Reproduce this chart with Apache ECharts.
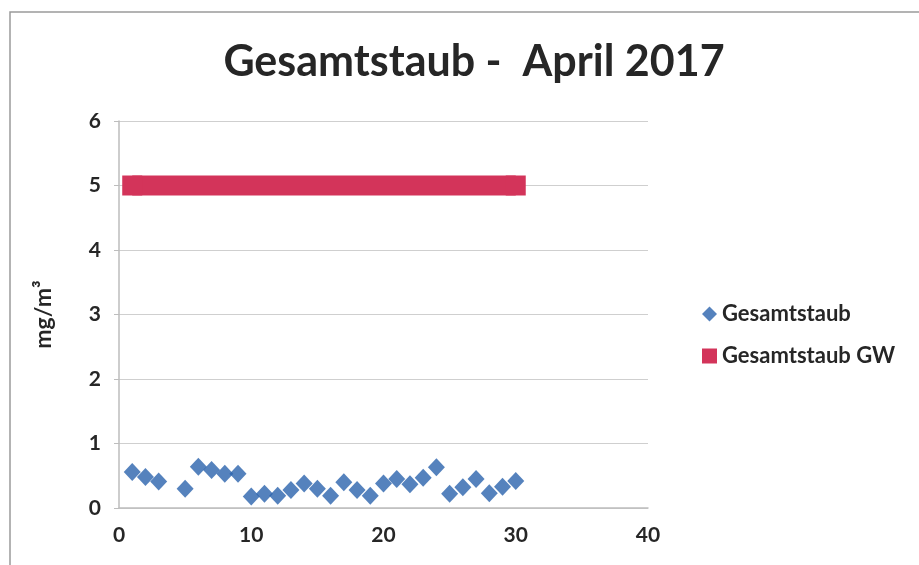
<!DOCTYPE html>
<html>
<head>
<meta charset="utf-8">
<style>
  html, body { margin: 0; padding: 0; background: #fff; }
  #chart { width: 919px; height: 565px; }
</style>
<script src="https://cdn.jsdelivr.net/npm/echarts@6/dist/echarts.min.js"></script>
</head>
<body>
<div id="chart"></div>
<script>
// Tagesmittel Gesamtstaub, April 2017 (Tag 4 fehlt)
const days = [1, 2, 3, 5, 6, 7, 8, 9, 10, 11, 12, 13, 14, 15, 16, 17, 18, 19, 20, 21, 22, 23, 24, 25, 26, 27, 28, 29, 30]
const dust = [0.56, 0.48, 0.41, 0.30, 0.64, 0.59, 0.53, 0.53, 0.18, 0.22, 0.19, 0.28, 0.38, 0.30, 0.19, 0.40, 0.28, 0.19, 0.38, 0.45, 0.37, 0.47, 0.63, 0.22, 0.32, 0.45, 0.23, 0.33, 0.42]

// Grenzwert
const gwDays = [1, 30]
const gwValues = [5, 5]

const seriesNames = ["Gesamtstaub", "Gesamtstaub GW"]
const font = "Lato, 'Open Sans', sans-serif"
const textColor = "#262626"

const chart = echarts.init(document.getElementById("chart"), null, { renderer: "canvas" })

chart.setOption({
  animation: false,
  backgroundColor: "#fff",
  textStyle: { fontFamily: font },
  title: {
    text: "Gesamtstaub -  April 2017",
    left: 469,
    top: 36,
    textAlign: "center",
    textStyle: { fontSize: 43, fontWeight: "bold", color: textColor, fontFamily: font }
  },
  graphic: [{
    type: "rect",
    shape: { x: 10, y: 12, width: 920, height: 560 },
    style: { fill: "none", stroke: "#9a9a9a", lineWidth: 1.5 },
    silent: true
  }],
  legend: {
    orient: "vertical",
    left: 697,
    top: 298,
    itemGap: 20,
    itemWidth: 15,
    itemHeight: 15,
    textStyle: { fontSize: 22, fontWeight: "bold", color: textColor, fontFamily: font },
    data: [
      { name: seriesNames[0], icon: "diamond" },
      { name: seriesNames[1], icon: "rect" }
    ]
  },
  grid: { left: 119, right: 271, top: 121, bottom: 57, containLabel: false },
  xAxis: {
    type: "value",
    min: 0,
    max: 40,
    interval: 10,
    axisLine: { show: true, lineStyle: { color: "#bdbdbd", width: 1.5 } },
    axisTick: { show: false },
    splitLine: { show: false },
    axisLabel: { fontSize: 21, fontWeight: "bold", color: textColor, margin: 17 }
  },
  yAxis: {
    type: "value",
    min: 0,
    max: 6,
    interval: 1,
    name: "mg/m³",
    nameLocation: "middle",
    nameGap: 64,
    nameTextStyle: { fontSize: 23, fontWeight: "bold", color: textColor, fontFamily: font },
    axisLine: { show: true, lineStyle: { color: "#bdbdbd", width: 1.5 } },
    axisTick: { show: true, length: 5, lineStyle: { color: "#bdbdbd" } },
    splitLine: { show: true, lineStyle: { color: "#cfcfcf", width: 1.2 } },
    axisLabel: { fontSize: 21, fontWeight: "bold", color: textColor, margin: 18 }
  },
  series: [
    {
      name: seriesNames[0],
      type: "scatter",
      symbol: "diamond",
      symbolSize: [17, 18],
      itemStyle: { color: "#2a63ad" },
      data: days.map((d, i) => [d, dust[i]]),
      z: 3
    },
    {
      name: seriesNames[1],
      type: "line",
      symbol: "rect",
      symbolSize: 20,
      showSymbol: true,
      lineStyle: { width: 20, color: "#d3345a" },
      itemStyle: { color: "#d3345a" },
      data: gwDays.map((d, i) => [d, gwValues[i]]),
      z: 2
    }
  ]
})
</script>
</body>
</html>
